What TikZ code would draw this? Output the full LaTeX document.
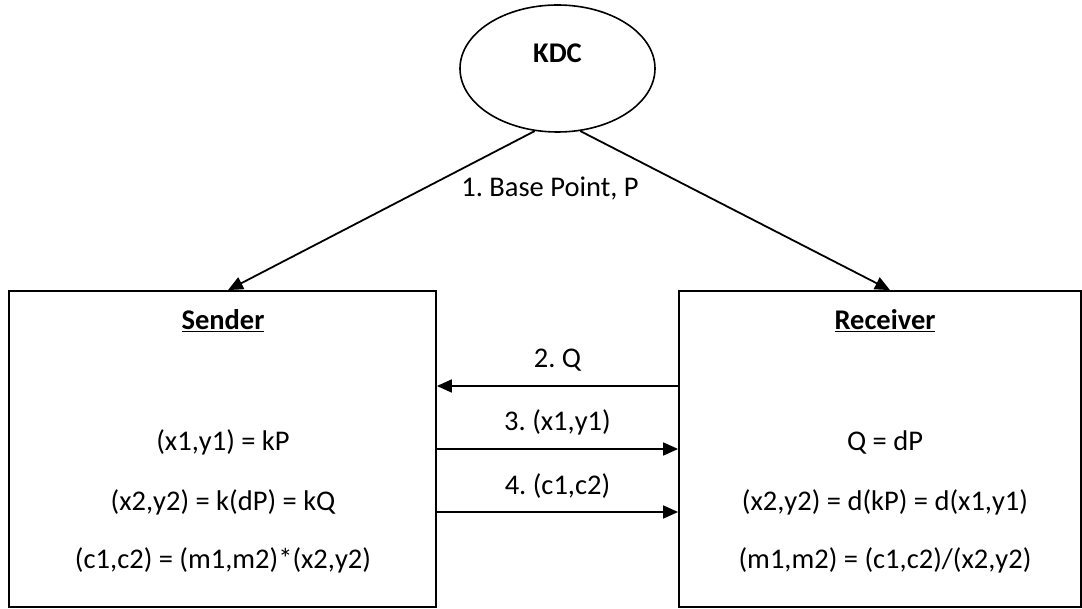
\documentclass[tikz,border=0pt]{standalone}
\usepackage{fontspec}
\setmainfont{Carlito}
\frenchspacing
\usetikzlibrary{arrows.meta,shapes.geometric}
\begin{document}
\begin{tikzpicture}[x=1pt,y=-1pt,
  box/.style={draw,line width=1.8pt,inner sep=0pt,rectangle},
  arr/.style={line width=1.8pt,-{Triangle[length=15pt,width=13pt]}},
  txt/.style={font=\fontsize{28.5}{34}\selectfont,inner sep=0pt,anchor=base}]
\useasboundingbox (0,0) rectangle (1082,609);
\node[draw,ellipse,line width=1.6pt,minimum width=195pt,minimum height=127pt,inner sep=0pt] (kdc) at (557.5,68.5) {};
\node[txt,font=\fontsize{28.5}{34}\selectfont\bfseries] (kdct) at (557.5,62.3) {KDC};
\node[box,minimum width=427pt,minimum height=316pt] (sender) at (222.5,449) {};
\node[box,minimum width=402pt,minimum height=316pt] (receiver) at (880,449) {};
% sender texts
\node[txt,font=\fontsize{28.5}{34}\selectfont\bfseries] (st) at (223,330) {\underline{Sender}};
\node[txt] (s1) at (223,450) {(x1,y1) = kP};
\node[txt] (s2) at (223,510) {(x2,y2) = k(dP) = kQ};
\node[txt] (s3) at (223,568) {(c1,c2) = (m1,m2)*(x2,y2)};
% receiver texts
\node[txt,font=\fontsize{28.5}{34}\selectfont\bfseries] (rt) at (885,330) {\underline{Receiver}};
\node[txt] (r1) at (885,450) {Q = dP};
\node[txt] (r2) at (885,510) {(x2,y2) = d(kP) = d(x1,y1)};
\node[txt] (r3) at (885,568) {(m1,m2) = (c1,c2)/(x2,y2)};
% connectors
\draw[arr] (kdc.250) -- ([xshift=5.5pt]sender.north);
\draw[arr] (kdc.290) -- ([xshift=10pt]receiver.north);
\node[txt] (l1) at (550,196.5) {1. Base Point, P};
\draw[arr] ([yshift=63pt]receiver.west) -- ([yshift=63pt]sender.east);
\draw[arr] (sender.east) -- (receiver.west);
\draw[arr] ([yshift=-63pt]sender.east) -- ([yshift=-63pt]receiver.west);
\node[txt] (l2) at (557.5,367.5) {2. Q};
\node[txt] (l3) at (557.5,430.7) {3. (x1,y1)};
\node[txt] (l4) at (557.5,494) {4. (c1,c2)};
\end{tikzpicture}
\end{document}
